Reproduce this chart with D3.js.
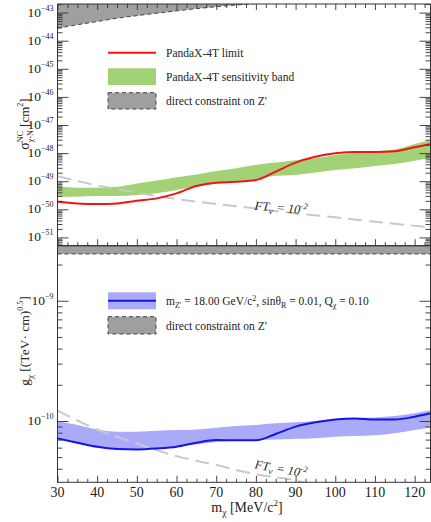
<!DOCTYPE html>
<html>
<head>
<meta charset="utf-8">
<script src="https://cdn.jsdelivr.net/npm/d3@7"></script>
<style>
  body { margin: 0; background: #fff; }
  svg { display: block; font-family: "Liberation Serif", Tinos, "Times New Roman", "DejaVu Serif", serif; }
  svg text { font-family: "Liberation Serif", Tinos, "Times New Roman", "DejaVu Serif", serif; fill: #222; }
</style>
</head>
<body>
<svg id="chart" width="431" height="522"></svg>
<script>
// ---- Dark-matter mass grid (MeV/c^2) ----
const massGrid = [30, 35, 40, 45, 50, 55, 60, 65, 70, 75, 80, 85, 90, 95, 100, 105, 110, 115, 120, 124];

// ---- Upper panel: chi-N cross section (cm^2) ----
const limitSigma = [1.86e-50, 1.62e-50, 1.55e-50, 1.62e-50, 2.0e-50, 2.45e-50, 3.7e-50, 6.8e-50, 8.9e-50, 9.5e-50,
                    1.1e-49, 2.2e-49, 4.6e-49, 7.4e-49, 9.8e-49, 1.1e-48, 1.1e-48, 1.17e-48, 1.62e-48, 2.1e-48];
const bandSigmaHigh = [6.8e-50, 5.9e-50, 5.9e-50, 6.3e-50, 8.3e-50, 1.05e-49, 1.38e-49, 1.74e-49, 2.3e-49, 2.9e-49,
                       3.8e-49, 4.6e-49, 5.6e-49, 6.5e-49, 8.5e-49, 1.02e-48, 1.17e-48, 1.35e-48, 2.1e-48, 2.95e-48];
const bandSigmaLow = [2.8e-50, 2.8e-50, 2.95e-50, 2.95e-50, 3.2e-50, 3.7e-50, 4.9e-50, 6.5e-50, 8.3e-50, 9.5e-50,
                      1.17e-49, 1.55e-49, 1.66e-49, 2.04e-49, 2.5e-49, 2.9e-49, 3.5e-49, 4.1e-49, 5.4e-49, 6.5e-49];
// FT_nu = 1e-2 fine-tuning curve
const ftMassTop = [30, 40, 50, 60, 70, 80, 90, 100, 110, 124];
const ftSigma = [1.51e-49, 7.1e-50, 3.9e-50, 2.3e-50, 1.55e-50, 1.07e-50, 7.1e-51, 5.2e-51, 3.6e-51, 2.3e-51];
// Direct constraint on Z' (excluded above this cross section)
const zMassTop = [30, 35, 40, 45, 50, 55, 60, 65, 70, 75, 80];
const zSigma = [2.75e-44, 3.7e-44, 4.8e-44, 6.3e-44, 7.8e-44, 9.5e-44, 1.15e-43, 1.38e-43, 1.62e-43, 1.86e-43, 2.1e-43];

// ---- Lower panel: coupling g_chi ((TeV*cm)^0.5) ----
const limitG = [7.17e-11, 6.6e-11, 6.1e-11, 5.85e-11, 5.8e-11, 5.9e-11, 6.1e-11, 6.6e-11, 6.95e-11, 6.9e-11,
                6.9e-11, 7.8e-11, 8.97e-11, 9.75e-11, 1.03e-10, 1.05e-10, 1.03e-10, 1.03e-10, 1.086e-10, 1.16e-10];
const bandGHigh = [1.0e-10, 9.26e-11, 8.5e-11, 8.15e-11, 8.15e-11, 8.3e-11, 8.4e-11, 8.5e-11, 8.8e-11, 9.1e-11,
                   9.26e-11, 9.56e-11, 9.75e-11, 1.0e-10, 1.04e-10, 1.06e-10, 1.07e-10, 1.1e-10, 1.16e-10, 1.23e-10];
const bandGLow = [7.03e-11, 6.5e-11, 6.05e-11, 5.85e-11, 5.85e-11, 5.95e-11, 6.15e-11, 6.4e-11, 6.7e-11, 6.85e-11,
                  6.95e-11, 7.0e-11, 7.1e-11, 7.2e-11, 7.4e-11, 7.5e-11, 7.6e-11, 7.9e-11, 8.4e-11, 8.85e-11];
const ftMassBot = [30, 40, 50, 60, 70, 80, 90, 95];
const ftG = [1.22e-10, 8.5e-11, 6.5e-11, 5.1e-11, 4.3e-11, 3.6e-11, 3.2e-11, 2.9e-11];
const zMassBot = [30, 124];
const zG = [2.45e-9, 2.45e-9];

// ---- Axis settings ----
const massDomain = [30, 124];
const massTicks = [30, 40, 50, 60, 70, 80, 90, 100, 110, 120];
const sigmaDomain = [Math.pow(10, -51.295), Math.pow(10, -42.694)];
const sigmaExponents = [-43, -44, -45, -46, -47, -48, -49, -50, -51];
const gDomain = [3.09e-11, 2.87e-9];
const gExponents = [-9, -10];

// ---- Layout ----
const FONT = '"Liberation Serif", Tinos, "Times New Roman", "DejaVu Serif", serif';
const svg = d3.select("#chart").attr("font-family", FONT);
const L = 57.5, R = 430.5;
const topPanel = { top: 4, bottom: 245.7 };
const botPanel = { top: 245.7, bottom: 482.3 };
const frameColor = "#333";

const x = d3.scaleLinear().domain(massDomain).range([L, R]);
const yTop = d3.scaleLog().domain(sigmaDomain).range([topPanel.bottom, topPanel.top]);
const yBot = d3.scaleLog().domain(gDomain).range([botPanel.bottom, botPanel.top]);

const defs = svg.append("defs");
function clip(id, p) {
  defs.append("clipPath").attr("id", id).append("rect")
    .attr("x", L).attr("y", p.top).attr("width", R - L).attr("height", p.bottom - p.top);
}
clip("clipTop", topPanel);
clip("clipBot", botPanel);

// Lays out a run of text pieces (with sub/superscripts) inside group g, left to right.
// Spaces are made non-breaking so that leading/trailing blanks keep their width.
// Returns total width.
function richText(g, pieces) {
  let xPos = 0, lastStart = 0;
  pieces.forEach(p => {
    const t = g.append("text")
      .attr("font-family", FONT)
      .attr("font-size", p.size)
      .attr("y", p.shift || 0)
      .text(p.t.replace(/ /g, "\u00A0"));
    if (p.italic) t.attr("font-style", "italic");
    const w = t.node().getComputedTextLength();
    if (p.stack) {
      t.attr("x", lastStart);
      xPos = Math.max(xPos, lastStart + w);
    } else {
      t.attr("x", xPos);
      lastStart = xPos;
      xPos += w;
    }
  });
  return xPos;
}

const zip = (xs, ys) => xs.map((m, i) => ({ m, v: ys[i] }));

// ================= Upper panel =================
const gTop = svg.append("g").attr("clip-path", "url(#clipTop)");

// Z' constraint region (top)
const zTop = zip(zMassTop, zSigma);
gTop.append("path").datum(zTop)
  .attr("fill", "#9f9f9f")
  .attr("d", d3.area().x(d => x(d.m)).y0(topPanel.top).y1(d => yTop(d.v)).curve(d3.curveMonotoneX));
gTop.append("path").datum(zTop)
  .attr("fill", "none").attr("stroke", "#444").attr("stroke-width", 1).attr("stroke-dasharray", "4,3")
  .attr("d", d3.line().x(d => x(d.m)).y(d => yTop(d.v)).curve(d3.curveMonotoneX));

// Sensitivity band
const bandTop = massGrid.map((m, i) => ({ m, lo: bandSigmaLow[i], hi: bandSigmaHigh[i] }));
gTop.append("path").datum(bandTop)
  .attr("fill", "#a2d275")
  .attr("d", d3.area().x(d => x(d.m)).y0(d => yTop(d.lo)).y1(d => yTop(d.hi)).curve(d3.curveMonotoneX));

// FT curve
gTop.append("path").datum(zip(ftMassTop, ftSigma))
  .attr("fill", "none").attr("stroke", "#c9c9c9").attr("stroke-width", 2).attr("stroke-dasharray", "14,7")
  .attr("d", d3.line().x(d => x(d.m)).y(d => yTop(d.v)).curve(d3.curveMonotoneX));

// Limit
gTop.append("path").datum(zip(massGrid, limitSigma))
  .attr("fill", "none").attr("stroke", "#f01414").attr("stroke-width", 2)
  .attr("d", d3.line().x(d => x(d.m)).y(d => yTop(d.v)).curve(d3.curveMonotoneX));

// ================= Lower panel =================
const gBot = svg.append("g").attr("clip-path", "url(#clipBot)");

const zBot = zip(zMassBot, zG);
gBot.append("path").datum(zBot)
  .attr("fill", "#9f9f9f")
  .attr("d", d3.area().x(d => x(d.m)).y0(botPanel.top).y1(d => yBot(d.v)));
gBot.append("path").datum(zBot)
  .attr("fill", "none").attr("stroke", "#444").attr("stroke-width", 1).attr("stroke-dasharray", "4,3")
  .attr("d", d3.line().x(d => x(d.m)).y(d => yBot(d.v)));

const bandBot = massGrid.map((m, i) => ({ m, lo: bandGLow[i], hi: bandGHigh[i] }));
gBot.append("path").datum(bandBot)
  .attr("fill", "#aaaaf8")
  .attr("d", d3.area().x(d => x(d.m)).y0(d => yBot(d.lo)).y1(d => yBot(d.hi)).curve(d3.curveMonotoneX));

gBot.append("path").datum(zip(ftMassBot, ftG))
  .attr("fill", "none").attr("stroke", "#c9c9c9").attr("stroke-width", 2).attr("stroke-dasharray", "14,7")
  .attr("d", d3.line().x(d => x(d.m)).y(d => yBot(d.v)).curve(d3.curveMonotoneX));

gBot.append("path").datum(zip(massGrid, limitG))
  .attr("fill", "none").attr("stroke", "#1414e6").attr("stroke-width", 2)
  .attr("d", d3.line().x(d => x(d.m)).y(d => yBot(d.v)).curve(d3.curveMonotoneX));

// ================= FT labels =================
function ftLabel(cx, cy, angle) {
  const g = svg.append("g").attr("transform", `translate(${cx},${cy}) rotate(${angle})`);
  const inner = g.append("g");
  const w = richText(inner, [
    { t: "FT", size: 12.5, italic: true },
    { t: "ν", size: 9, italic: true, shift: 3 },
    { t: " = 10", size: 12.5, italic: true },
    { t: "-2", size: 8.5, italic: true, shift: -5 }
  ]);
  inner.attr("transform", `translate(${-w / 2},4)`);
}
ftLabel(281, 208, 5);
ftLabel(281, 469, 10);

// ================= Axes =================
const minorMass = d3.range(30, 124.01, 2.5).filter(v => !massTicks.includes(v));

function massAxes(panel, withLabels) {
  // bottom edge, ticks pointing up
  svg.append("g").attr("transform", `translate(0,${panel.bottom})`)
    .call(d3.axisTop(x).tickValues(massTicks).tickSize(6.5).tickFormat(""));
  svg.append("g").attr("transform", `translate(0,${panel.bottom})`)
    .call(d3.axisTop(x).tickValues(minorMass).tickSize(3.5).tickFormat(""));
  if (withLabels) {
    svg.append("g").selectAll("text").data(massTicks).join("text")
      .attr("font-family", FONT)
      .attr("x", d => x(d)).attr("y", panel.bottom + 14.5)
      .attr("text-anchor", "middle").attr("font-size", 14).text(d => d);
  }
}

function logAxes(y, exps, panel, baseSize, expSize) {
  const [d0, d1] = y.domain();
  const major = exps.map(e => Math.pow(10, e)).filter(v => v >= d0 && v <= d1);
  const minor = [];
  const eMin = Math.floor(Math.log10(d0)), eMax = Math.ceil(Math.log10(d1));
  for (let e = eMin; e <= eMax; e++) {
    for (let k = 2; k <= 9; k++) {
      const v = k * Math.pow(10, e);
      if (v >= d0 && v <= d1) minor.push(v);
    }
  }
  svg.append("g").attr("transform", `translate(${L},0)`)
    .call(d3.axisRight(y).tickValues(major).tickSize(11).tickFormat(""));
  svg.append("g").attr("transform", `translate(${L},0)`)
    .call(d3.axisRight(y).tickValues(minor).tickSize(5).tickFormat(""));
  svg.append("g").attr("transform", `translate(${R},0)`)
    .call(d3.axisLeft(y).tickValues(major).tickSize(11).tickFormat(""));
  svg.append("g").attr("transform", `translate(${R},0)`)
    .call(d3.axisLeft(y).tickValues(minor).tickSize(5).tickFormat(""));
  exps.forEach(e => {
    const v = Math.pow(10, e);
    if (v < d0 || v > d1) return;
    const g = svg.append("g");
    const w = richText(g, [
      { t: "10", size: baseSize },
      { t: "\u2212" + (-e), size: expSize, shift: -6 }
    ]);
    g.attr("transform", `translate(${L - 4 - w},${y(v) + 4})`);
  });
}

// top edge of upper panel, ticks pointing down
svg.append("g").attr("transform", `translate(0,${topPanel.top})`)
  .call(d3.axisBottom(x).tickValues(massTicks).tickSize(6).tickFormat(""));
svg.append("g").attr("transform", `translate(0,${topPanel.top})`)
  .call(d3.axisBottom(x).tickValues(minorMass).tickSize(4).tickFormat(""));

massAxes(topPanel, false);
massAxes(botPanel, true);
logAxes(yTop, sigmaExponents, topPanel, 13.5, 8);
logAxes(yBot, gExponents, botPanel, 13.5, 8);

svg.selectAll(".domain").remove();
svg.selectAll(".tick line").attr("stroke", frameColor).attr("stroke-width", 0.9);

// Frames
[topPanel, botPanel].forEach(p => {
  svg.append("rect").attr("x", L).attr("y", p.top).attr("width", R - L).attr("height", p.bottom - p.top)
    .attr("fill", "none").attr("stroke", frameColor).attr("stroke-width", 1);
});

// ================= Legends =================
const legX = 108, legW = 48, legTextX = 166, legFont = 11.5;

function legText(xp, yp, s) {
  svg.append("text").attr("font-family", FONT).attr("x", xp).attr("y", yp).attr("font-size", legFont).text(s);
}

// upper legend
svg.append("line").attr("x1", legX).attr("x2", legX + legW).attr("y1", 52.7).attr("y2", 52.7)
  .attr("stroke", "#f01414").attr("stroke-width", 2);
legText(legTextX, 57, "PandaX-4T limit");
svg.append("rect").attr("x", legX).attr("y", 68.3).attr("width", legW).attr("height", 16.7).attr("fill", "#a2d275");
legText(legTextX, 81, "PandaX-4T sensitivity band");
svg.append("rect").attr("x", legX).attr("y", 92.7).attr("width", legW).attr("height", 16.3)
  .attr("fill", "#9f9f9f").attr("stroke", "#444").attr("stroke-dasharray", "4,3");
legText(legTextX, 105, "direct constraint on Z'");

// lower legend
svg.append("rect").attr("x", legX).attr("y", 292.3).attr("width", legW).attr("height", 17).attr("fill", "#aaaaf8");
svg.append("line").attr("x1", legX).attr("x2", legX + legW).attr("y1", 300.7).attr("y2", 300.7)
  .attr("stroke", "#1414e6").attr("stroke-width", 2);
{
  const g = svg.append("g").attr("transform", `translate(${legTextX},305)`);
  richText(g, [
    { t: "m", size: legFont },
    { t: "Z'", size: 8, shift: 3 },
    { t: " = 18.00 GeV/c", size: legFont },
    { t: "2", size: 8, shift: -4.5 },
    { t: ", sinθ", size: legFont },
    { t: "R", size: 8, shift: 3 },
    { t: " = 0.01, Q", size: legFont },
    { t: "χ", size: 8, shift: 3 },
    { t: " = 0.10", size: legFont }
  ]);
}
svg.append("rect").attr("x", legX).attr("y", 316.7).attr("width", legW).attr("height", 17.3)
  .attr("fill", "#9f9f9f").attr("stroke", "#444").attr("stroke-dasharray", "4,3");
legText(legTextX, 329.5, "direct constraint on Z'");

// ================= Axis titles =================
function rotatedTitle(cx, cy, pieces) {
  const g = svg.append("g").attr("transform", `translate(${cx},${cy}) rotate(-90)`);
  const inner = g.append("g");
  const w = richText(inner, pieces);
  inner.attr("transform", `translate(${-w / 2},0)`);
}
rotatedTitle(29, 124, [
  { t: "σ", size: 14 },
  { t: "NC", size: 8, shift: -6 },
  { t: "χ-N", size: 8, shift: 4, stack: true },
  { t: " [cm", size: 13 },
  { t: "2", size: 8, shift: -6 },
  { t: "]", size: 13 }
]);
rotatedTitle(29, 341, [
  { t: "g", size: 13.5 },
  { t: "χ", size: 9, shift: 3.5 },
  { t: " [(TeV· cm)", size: 13.5 },
  { t: "0.5", size: 8, shift: -6 },
  { t: "]", size: 13.5 }
]);
{
  const g = svg.append("g").attr("transform", `translate(247,512)`);
  const inner = g.append("g");
  const w = richText(inner, [
    { t: "m", size: 14 },
    { t: "χ", size: 9.5, shift: 3.5 },
    { t: " [MeV/c", size: 14 },
    { t: "2", size: 9, shift: -6 },
    { t: "]", size: 14 }
  ]);
  inner.attr("transform", `translate(${-w / 2},0)`);
}
</script>
</body>
</html>
